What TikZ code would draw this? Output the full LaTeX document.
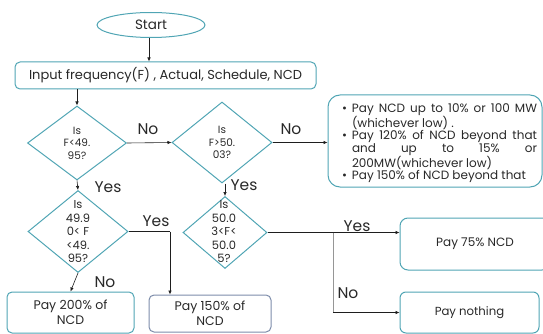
\documentclass[tikz,border=0pt]{standalone}
\usepackage{fontspec}
\setmainfont{Poppins}
\usetikzlibrary{shapes.geometric,arrows.meta}
\definecolor{teal1}{RGB}{80,165,180}
\definecolor{slate1}{RGB}{125,140,170}
\definecolor{txt}{RGB}{40,40,40}
\definecolor{ln}{RGB}{30,30,30}
\definecolor{lng}{RGB}{150,150,150}
\tikzset{
  tbox/.style={draw=teal1, line width=1pt, rounded corners=5pt, text=txt, align=center, inner sep=0pt},
  dia/.style={draw=teal1, line width=1pt, diamond, inner sep=0pt},
  dtext/.style={text=txt, align=center, font=\fontsize{10.5}{12.5}\selectfont, inner sep=0pt},
  lab/.style={text=txt, font=\fontsize{15.5}{16}\selectfont, inner sep=0pt},
  arr/.style={draw=ln, line width=0.6pt, -{Latex[length=4pt,width=3.5pt]}},
  ln/.style={draw=ln, line width=0.6pt}
}
\begin{document}
\begin{tikzpicture}[x=1pt,y=-1pt]
\useasboundingbox (0,0) rectangle (543,334);
% start
\node[draw=teal1, line width=1pt, ellipse, minimum width=108pt, minimum height=25pt, inner sep=0pt, text=txt, font=\fontsize{13.5}{14}\selectfont] (start) at (151,25) {Start};
% input
\node[tbox, minimum width=301pt, minimum height=27pt, font=\fontsize{13}{14}\selectfont] (inp) at (165.5,75.5) {Input frequency(F) , Actual, Schedule, NCD};
\draw[arr] (start.south -| 149,0) -- (inp.north -| 149,0);
% diamonds
\node[dia, minimum width=99pt, minimum height=74pt] (d1) at (77,143) {};
\node[dtext] (d1t) at (77,143) {Is\\F<49.\\95?};
\node[dia, minimum width=100pt, minimum height=81pt] (d2) at (222,142.5) {};
\node[dtext] (d2t) at (222,142.5) {Is\\F>50.\\03?};
\node[dia, minimum width=100pt, minimum height=82pt] (d3) at (78,231.5) {};
\node[dtext, font=\fontsize{11.5}{13.5}\selectfont] (d3t) at (78,232) {Is\\49.9\\0< F\\<49.\\95?};
\node[dia, minimum width=84pt, minimum height=72pt] (d4) at (225,232.5) {};
\node[dtext, font=\fontsize{11.5}{13.5}\selectfont] (d4t) at (224,232) {Is\\50.0\\3<F<\\50.0\\5?};
% boxes
\node[tbox, rounded corners=12pt, minimum width=214pt, minimum height=92pt] (rb) at (435,141) {};
\node[text=txt, text width=185pt, align=justify, inner sep=0pt, font=\fontsize{12}{12.3}\selectfont] (rbt) at (444.5,143) {%
\noindent\llap{\textbullet\hspace{5pt}}Pay NCD up to 10\% or 100 MW\linebreak (whichever low) .\par
\noindent\llap{\textbullet\hspace{5pt}}Pay 120\% of NCD beyond that\linebreak and\hfill up\hfill to\hfill 15\%\hfill or\linebreak 200MW(whichever low)\par
\noindent\llap{\textbullet\hspace{5pt}}Pay 150\% of NCD beyond that\par};
\node[tbox, minimum width=127pt, minimum height=41pt, font=\fontsize{12.5}{15}\selectfont] (b200) at (70.5,312.5) {Pay 200\% of\\NCD};
\node[tbox, draw=slate1, minimum width=122pt, minimum height=37pt, font=\fontsize{12.5}{15}\selectfont] (b150) at (210,313.5) {Pay 150\% of\\NCD};
\node[tbox, rounded corners=8pt, minimum width=150pt, minimum height=52pt, font=\fontsize{12}{14}\selectfont] (b75) at (475,244) {Pay 75\% NCD};
\node[tbox, rounded corners=6pt, minimum width=139pt, minimum height=41pt, font=\fontsize{11.7}{14}\selectfont] (bn) at (469.5,312.5) {Pay nothing};
% connectors
\coordinate (c1) at (170,231.5);
\coordinate (c2) at (333,232.5);
\draw[arr] (inp.south -| d1.north) -- (d1.north);
\draw[arr] (d1.east) -- (d2.west);
\draw[arr] (d2.east) -- (rb.west |- d2.east);
\draw[arr] (d1.south) -- (d3.north);
\draw[arr] (d2.south -| d4.north) -- (d4.north);
\draw[arr] (d3.south) -- (b200.north);
\draw[ln] (d3.east) -- (c1);
\draw[arr] (c1) -- (c1 |- b150.north);
\draw[ln] (d4.east) -- (c2);
\draw[arr] (c2) -- (b75.west |- c2);
\draw[draw=lng, line width=0.8pt] (c2) -- (c2 |- bn.west);
\draw[arr] (c2 |- bn.west) -- (bn.west);
% labels
\node[lab] (l1) at (148,129) {No};
\node[lab] (l2) at (291,129) {No};
\node[lab] (l3) at (108,187) {Yes};
\node[lab] (l4) at (244,185) {Yes};
\node[lab] (l5) at (156,221) {Yes};
\node[lab] (l6) at (105,282) {No};
\node[lab] (l7) at (357,226) {Yes};
\node[lab] (l8) at (348,293) {No};
\end{tikzpicture}
\end{document}
